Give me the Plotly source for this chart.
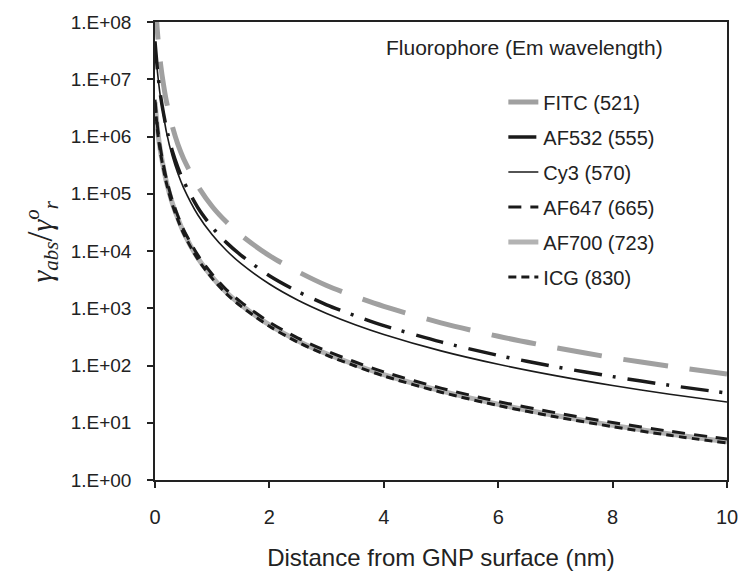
import plotly.graph_objects as go

# Distance from GNP surface (nm)
distance_nm = [0, 0.05, 0.1, 0.15, 0.2, 0.3, 0.4, 0.5, 0.75, 1, 1.25, 1.5, 2, 2.5, 3, 3.5, 4, 5, 6, 7, 8, 9, 10]

# gamma_abs / gamma_r^o
fitc = [3.0e8, 5.4e7, 1.76e7, 7.9e6, 4.1e6, 1.54e6, 7.3e5, 4.1e5, 1.36e5, 6.0e4, 3.2e4, 1.9e4, 8.3e3, 4.35e3, 2.5e3, 1.6e3, 1.08e3, 556, 324, 205, 137, 97, 71]
af532 = [4.6e7, 1.24e7, 4.96e6, 2.5e6, 1.39e6, 5.7e5, 2.9e5, 1.66e5, 5.7e4, 2.6e4, 1.4e4, 8.5e3, 3.7e3, 1.95e3, 1.15e3, 740, 497, 258, 150, 95, 64, 45, 33]
cy3 = [4.0e7, 1.15e7, 4.5e6, 2.3e6, 1.19e6, 4.6e5, 2.25e5, 1.27e5, 4.26e4, 1.92e4, 1.02e4, 6.07e3, 2.65e3, 1.38e3, 812, 516, 349, 180, 105, 66.5, 44.7, 31.5, 23]
af647 = [4.4e6, 1.3e6, 5.8e5, 3.1e5, 1.8e5, 7.8e4, 4.1e4, 2.37e4, 8.45e3, 3.93e3, 2.1e3, 1.29e3, 572, 301, 179, 115, 77.4, 40.3, 23.5, 15.0, 10.1, 7.1, 5.2]
af700 = [4.0e6, 1.17e6, 5.2e5, 2.8e5, 1.61e5, 7.0e4, 3.7e4, 2.12e4, 7.5e3, 3.51e3, 1.88e3, 1.15e3, 511, 269, 160, 103, 69.1, 36, 21, 13.4, 9.0, 6.35, 4.65]
icg = [3.8e6, 1.11e6, 4.9e5, 2.65e5, 1.53e5, 6.6e4, 3.5e4, 2.01e4, 7.17e3, 3.33e3, 1.78e3, 1.09e3, 485, 255, 152, 98, 65.6, 34.2, 20, 12.7, 8.55, 6.03, 4.42]

series_names = ["FITC (521)", "AF532 (555)", "Cy3 (570)", "AF647 (665)", "AF700 (723)", "ICG (830)"]
series_values = [fitc, af532, cy3, af647, af700, icg]
series_colors = ["#a0a0a0", "#1a1a1a", "#1a1a1a", "#1a1a1a", "#b3b3b3", "#1a1a1a"]
series_widths = [5, 3.5, 1.6, 3, 5, 3]
series_dashes = ["45px,22px", "28px,11px,3px,12px", "solid", "13px,9px", "solid", "8px,5px"]

y_tickvals = [1, 10, 100, 1e3, 1e4, 1e5, 1e6, 1e7, 1e8]
y_ticktext = ["1.E+00", "1.E+01", "1.E+02", "1.E+03", "1.E+04", "1.E+05", "1.E+06", "1.E+07", "1.E+08"]
x_tickvals = [0, 2, 4, 6, 8, 10]

fig = go.Figure()
# draw the grey thick ones first so black lines sit on top
order = [4, 0, 1, 2, 3, 5]
for i in order:
    fig.add_trace(go.Scatter(
        x=distance_nm, y=series_values[i], mode="lines", name=series_names[i],
        legendgroup=series_names[i], legendrank=i + 1,
        line=dict(color=series_colors[i], width=series_widths[i], dash=series_dashes[i],
                  shape="spline", smoothing=0.8),
        cliponaxis=True,
    ))

font_family = "Liberation Sans, Arial, sans-serif"
fig.update_layout(
    width=750, height=583,
    margin=dict(l=155, r=13, t=15, b=103),
    paper_bgcolor="white", plot_bgcolor="white",
    font=dict(family=font_family, size=19, color="#222222"),
    showlegend=True,
    legend=dict(
        x=0.609, y=0.868, xanchor="left", yanchor="top",
        bgcolor="rgba(0,0,0,0)", borderwidth=0,
        font=dict(family=font_family, size=20, color="#222222"),
        traceorder="grouped", tracegroupgap=6,
    ),
    xaxis=dict(
        range=[0, 10], tickvals=x_tickvals, ticks="outside", ticklen=6, tickwidth=1.5,
        tickcolor="#222", showline=True, linecolor="#222", linewidth=1.5, mirror=True,
        showgrid=False, zeroline=False, ticklabelstandoff=12,
        tickfont=dict(size=20),
        title=dict(text="Distance from GNP surface (nm)", font=dict(size=24), standoff=22),
    ),
    yaxis=dict(
        type="log", range=[0, 8], tickvals=y_tickvals, ticktext=y_ticktext,
        ticks="outside", ticklen=6, tickwidth=1.5, tickcolor="#222",
        showline=True, linecolor="#222", linewidth=1.5, mirror=True,
        showgrid=False, zeroline=False, ticklabelstandoff=12,
        tickfont=dict(size=19),
    ),
    annotations=[
        dict(text="Fluorophore (Em wavelength)", xref="paper", yref="paper",
             x=0.646, y=0.945, xanchor="center", yanchor="middle", showarrow=False,
             font=dict(family=font_family, size=21, color="#222222")),
        dict(text="<i>γ</i><sub><i>abs</i></sub><span style='font-size:36px'>/</span><i>γ</i><sup><i>o</i></sup><sub><i>r</i></sub>",
             xref="paper", yref="paper", x=-0.198, y=0.52, xanchor="center", yanchor="middle",
             textangle=-90, showarrow=False,
             font=dict(family="Liberation Serif, Times New Roman, serif", size=30, color="#222222")),
    ],
)

fig.write_html("out.html")
